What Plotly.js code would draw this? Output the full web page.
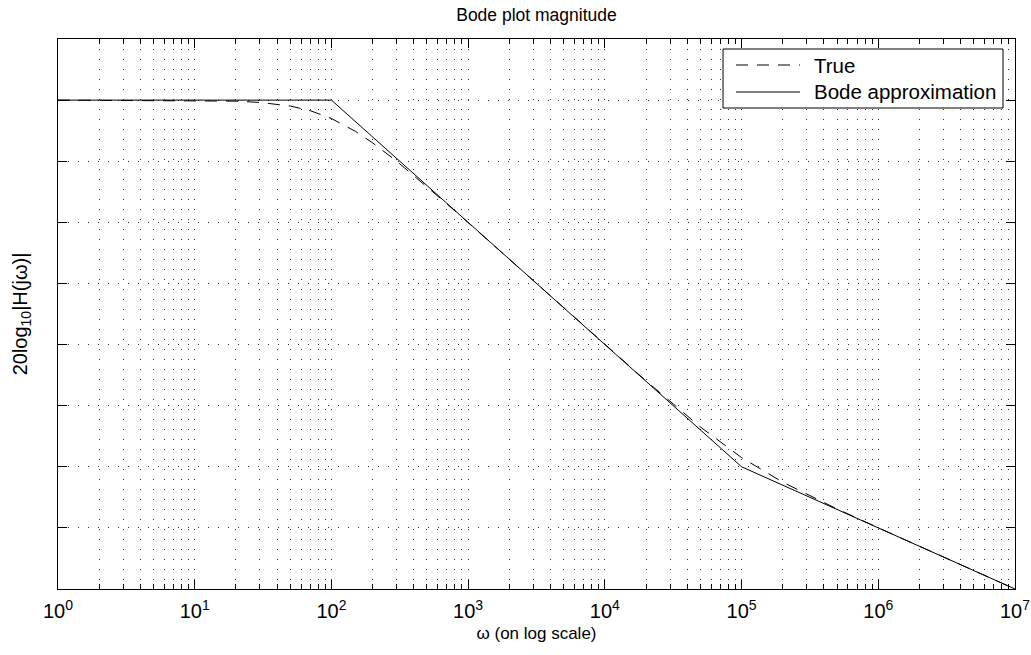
<!DOCTYPE html>
<html>
<head>
<meta charset="utf-8">
<script src="https://cdn.plot.ly/plotly-3.0.1.min.js"></script>
<style>html,body{margin:0;padding:0;background:#fff}#chart{width:1031px;height:655px}</style>
</head>
<body>
<div id="chart"></div>
<script>
// Frequencies (rad/s) and magnitudes (dB)
const trueW  = [1, 10, 20, 30, 50, 70, 100, 150, 200, 300, 500, 700, 1000, 2000, 5000, 10000, 20000, 50000, 100000, 200000, 500000, 1000000, 2000000, 5000000, 10000000];
const trueDb = [0, -0.09, -0.34, -0.75, -1.94, -3.46, -6.02, -10.24, -13.98, -20.0, -28.3, -33.98, -40.09, -52.06, -67.96, -80.0, -91.87, -106.99, -116.99, -125.05, -133.81, -139.96, -146.01, -153.98, -160.0];
const bodeW  = [1, 100, 100000, 10000000];
const bodeDb = [0, 0, -120, -160];
const xTickVals = [1, 10, 100, 1000, 10000, 100000, 1000000, 10000000];
const xTickText = ['10<sup>0</sup>', '10<sup>1</sup>', '10<sup>2</sup>', '10<sup>3</sup>', '10<sup>4</sup>', '10<sup>5</sup>', '10<sup>6</sup>', '10<sup>7</sup>'];
const seriesNames = ['True', 'Bode approximation'];

const font = "Liberation Sans, Arial, Helvetica, sans-serif";
const dashPat = '12px,9px';
const gridDash = '1px,9px';
const gridCol = '#333';

const data = [
  {x: trueW, y: trueDb, type: 'scatter', mode: 'lines', name: seriesNames[0],
   line: {color: '#000', width: 1, dash: dashPat}},
  {x: bodeW, y: bodeDb, type: 'scatter', mode: 'lines', name: seriesNames[1],
   line: {color: '#000', width: 1}}
];

// Legend drawn in paper coordinates (plot area: x 58..1015, y 39..589)
const L = 58, R = 1015, T = 39, B = 589;
const px = v => (v - L) / (R - L);
const py = v => (B - v) / (B - T);

const shapes = [
  {type: 'rect', xref: 'paper', yref: 'paper', x0: px(723), x1: px(1003), y0: py(108), y1: py(49),
   line: {color: '#000', width: 1}, fillcolor: '#fff', layer: 'above'},
  {type: 'line', xref: 'paper', yref: 'paper', x0: px(736), x1: px(800), y0: py(65), y1: py(65),
   line: {color: '#000', width: 1, dash: dashPat}, layer: 'above'},
  {type: 'line', xref: 'paper', yref: 'paper', x0: px(736), x1: px(800), y0: py(92), y1: py(92),
   line: {color: '#000', width: 1}, layer: 'above'}
];
const annotations = [
  {xref: 'paper', yref: 'paper', x: px(812), y: py(66), xanchor: 'left', yanchor: 'middle',
   text: seriesNames[0], showarrow: false, font: {size: 20.5, family: font, color: '#000'}},
  {xref: 'paper', yref: 'paper', x: px(812), y: py(92), xanchor: 'left', yanchor: 'middle',
   text: seriesNames[1], showarrow: false, font: {size: 20.5, family: font, color: '#000'}}
];

const layout = {
  width: 1031, height: 655,
  paper_bgcolor: '#fff', plot_bgcolor: '#fff',
  margin: {l: L, r: 1031 - R, t: T, b: 655 - B},
  font: {family: font, color: '#000'},
  showlegend: false,
  title: {text: 'Bode plot magnitude', font: {size: 17.5, family: font, color: '#000'}, x: 0.5, xref: 'paper', y: 1 - 15 / 655, yanchor: 'middle'},
  xaxis: {
    type: 'log', range: [-0.00001, 7.00001],
    tickmode: 'array', tickvals: xTickVals, ticktext: xTickText,
    tickfont: {size: 20, family: font}, ticklabelstandoff: 4,
    ticks: 'inside', ticklen: 9, tickcolor: '#000', tickwidth: 1,
    showline: true, linecolor: '#000', linewidth: 1, mirror: 'ticks',
    showgrid: true, gridcolor: gridCol, griddash: gridDash, gridwidth: 1,
    minor: {dtick: 'D1', ticks: 'inside', ticklen: 5, tickcolor: '#000', showgrid: true, gridcolor: gridCol, griddash: gridDash, gridwidth: 1},
    zeroline: false,
    title: {text: 'ω (on log scale)', font: {size: 17, family: font}, standoff: 6}
  },
  yaxis: {
    range: [-160, 20], dtick: 20, tick0: 0,
    showticklabels: false,
    ticks: 'inside', ticklen: 9, tickcolor: '#000',
    showline: true, linecolor: '#000', linewidth: 1, mirror: 'ticks',
    showgrid: true, gridcolor: gridCol, griddash: gridDash, gridwidth: 1,
    zeroline: false,
    title: {text: '20log<sub>10</sub>|H(jω)|', font: {size: 20, family: font}, standoff: 24}
  },
  shapes: shapes,
  annotations: annotations
};
Plotly.newPlot('chart', data, layout, {displayModeBar: false, staticPlot: true});
</script>
</body>
</html>
